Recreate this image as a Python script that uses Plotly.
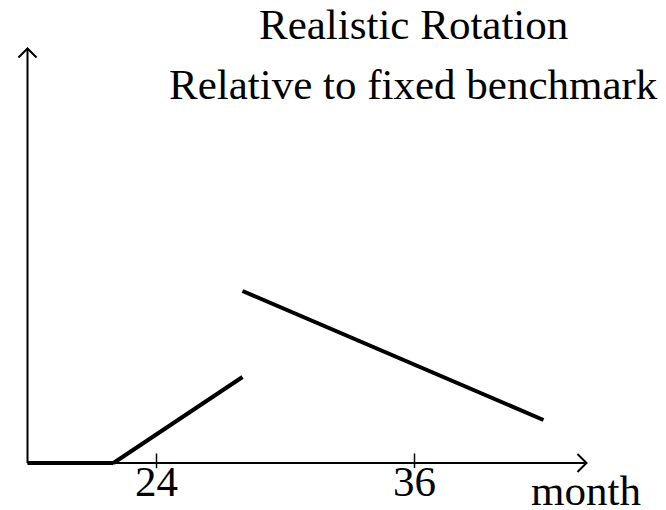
import plotly.graph_objects as go

# ---- data ----
months_flat = [18, 22]
values_flat = [0, 0]
months_rise = [22, 28]
values_rise = [0, 1]
months_fall = [28, 42]
values_fall = [2, 0.5]

tick_vals = [24, 36]
tick_text = ["24", "36"]
x_label = "month"
title_1 = "Realistic Rotation"
title_2 = "Relative to fixed benchmark"

# axis geometry (data units)
x_origin, y_origin = 18, 0
x_end = 44
y_end = 4.82

FONT = "Liberation Serif, Times New Roman, serif"
BLACK = "#000000"

W, H = 658, 502  # page body has an 8px margin

fig = go.Figure()
for xs, ys in [(months_flat, values_flat), (months_rise, values_rise), (months_fall, values_fall)]:
    fig.add_trace(go.Scatter(x=xs, y=ys, mode="lines",
                             line=dict(color=BLACK, width=4),
                             showlegend=False, hoverinfo="skip"))

shapes = []
# axes
shapes.append(dict(type="line", xref="x", yref="y", x0=x_origin, y0=y_origin, x1=x_end, y1=y_origin,
                   line=dict(color=BLACK, width=2)))
shapes.append(dict(type="line", xref="x", yref="y", x0=x_origin, y0=y_origin, x1=x_origin, y1=y_end,
                   line=dict(color=BLACK, width=2)))
# arrow heads (chevrons)
dx, dy = 0.42, 0.105
shapes.append(dict(type="path", xref="x", yref="y",
                   path=f"M{x_end-dx},{dy} Q{x_end-0.12},{0.03} {x_end},0 Q{x_end-0.12},{-0.03} {x_end-dx},{-dy}",
                   line=dict(color=BLACK, width=2)))
hx, hy = 0.42, 0.105
shapes.append(dict(type="path", xref="x", yref="y",
                   path=f"M{x_origin-hx},{y_end-hy} Q{x_origin-0.12},{y_end-0.03} {x_origin},{y_end} Q{x_origin+0.12},{y_end-0.03} {x_origin+hx},{y_end-hy}",
                   line=dict(color=BLACK, width=2)))
# tick marks
for t in tick_vals:
    shapes.append(dict(type="line", xref="x", yref="y", x0=t, y0=0.11, x1=t, y1=-0.06,
                       line=dict(color=BLACK, width=1.5)))

annotations = [
    dict(text=title_1, x=0.617, y=0.968, xref="paper", yref="paper", xanchor="center", yanchor="middle",
         showarrow=False, font=dict(family=FONT, size=43, color=BLACK)),
    dict(text=title_2, x=0.617, y=0.8486, xref="paper", yref="paper", xanchor="center", yanchor="middle",
         showarrow=False, font=dict(family=FONT, size=43, color=BLACK)),
    dict(text=x_label, x=0.8784, y=0.0398, xref="paper", yref="paper", xanchor="center", yanchor="middle",
         showarrow=False, font=dict(family=FONT, size=43, color=BLACK)),
]

fig.update_layout(
    width=W, height=H, autosize=False,
    margin=dict(l=0, r=0, t=0, b=0),
    paper_bgcolor="white", plot_bgcolor="white",
    shapes=shapes, annotations=annotations,
    xaxis=dict(range=[17.093, 47.698], tickvals=tick_vals, ticktext=tick_text,
               showgrid=False, zeroline=False, showline=False, ticks="",
               anchor="free", position=0.1156, automargin=False,
               tickfont=dict(family=FONT, size=43, color=BLACK)),
    yaxis=dict(range=[-0.5465, 5.2907], visible=False, showgrid=False, zeroline=False),
)

fig.write_html("out.html")
